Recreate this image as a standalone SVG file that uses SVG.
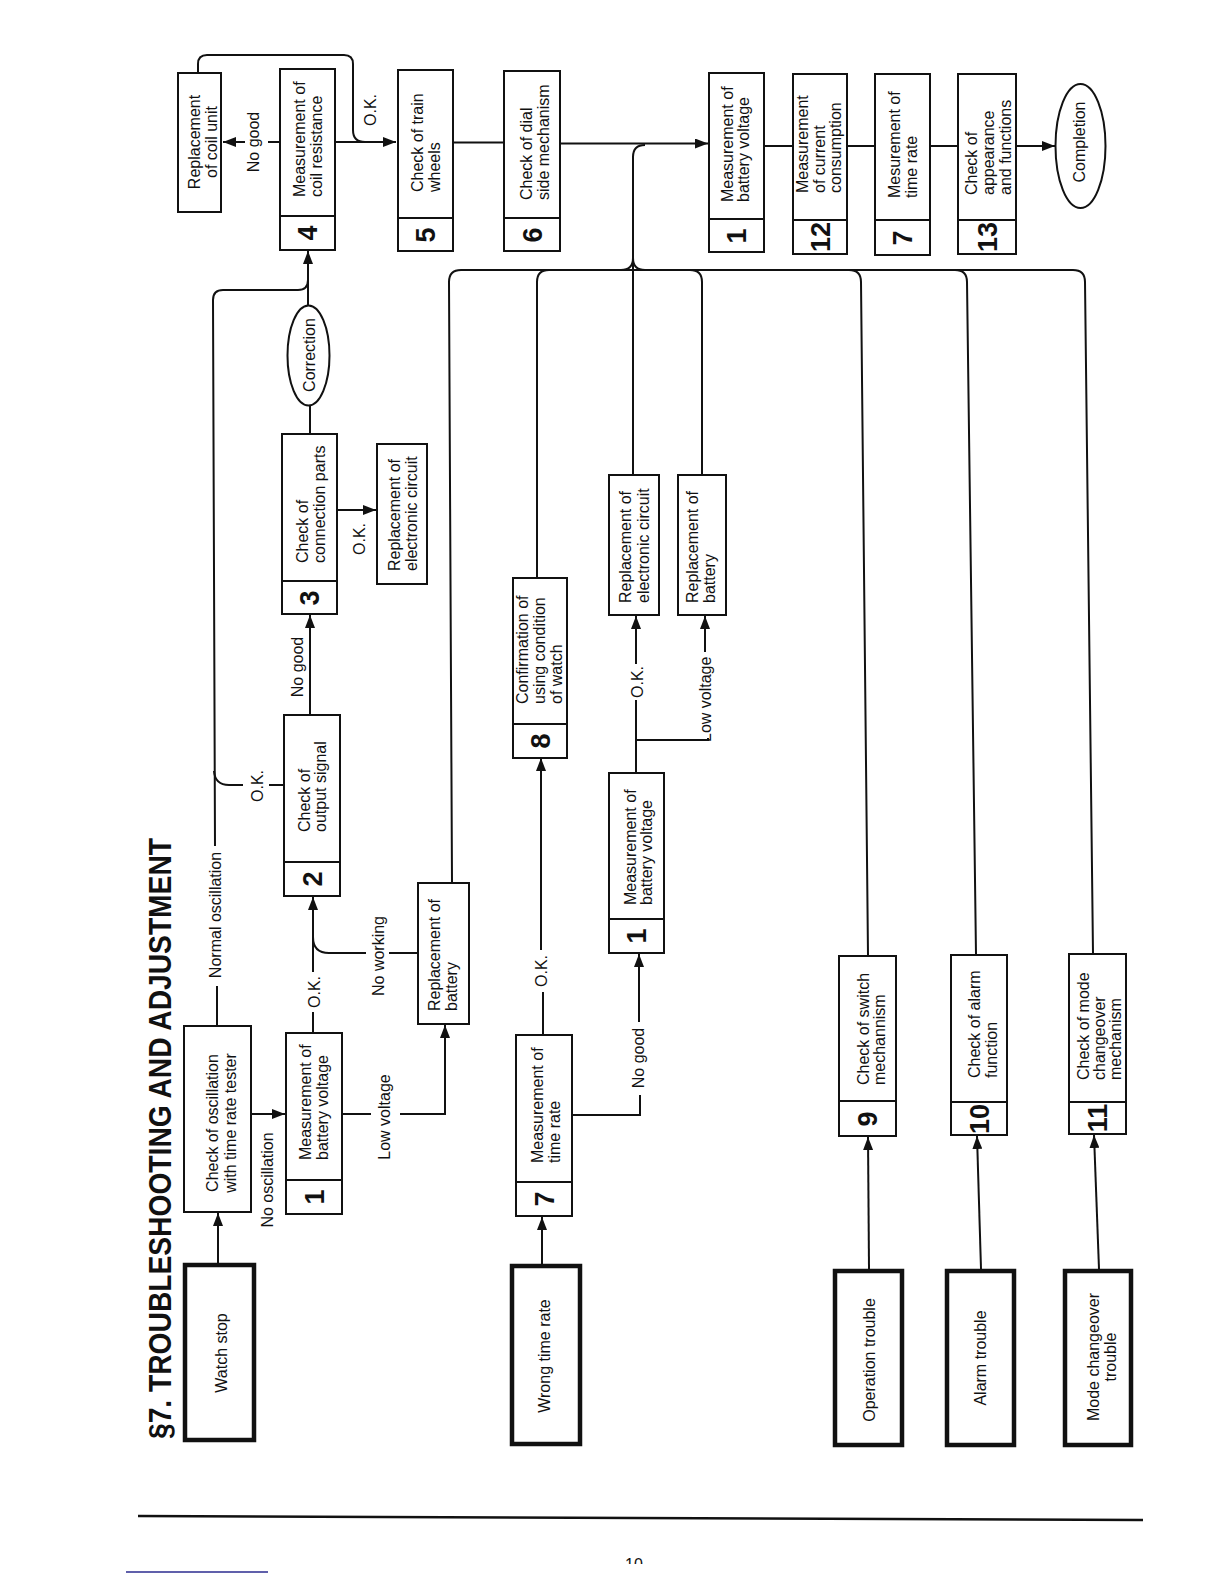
<svg xmlns="http://www.w3.org/2000/svg" width="1224" height="1584" viewBox="0 0 1224 1584">
<defs>
<style>
.b{fill:#fff;stroke:#111;stroke-width:2}
.tb{fill:#fff;stroke:#111;stroke-width:4.5}
.d{stroke:#111;stroke-width:2}
.t{font-family:"Liberation Sans",Arial,Helvetica,sans-serif;font-size:16px;fill:#111}
.c{text-anchor:middle}
.n{font-family:"Liberation Sans",Arial,Helvetica,sans-serif;font-size:27px;font-weight:bold;fill:#111;text-anchor:middle}
.ln{fill:none;stroke:#111;stroke-width:2}
.ar{marker-end:url(#ah)}
</style>
<marker id="ah" markerUnits="userSpaceOnUse" markerWidth="13" markerHeight="10" refX="13" refY="5" orient="auto"><path d="M0,0 L13,5 L0,10 Z" fill="#111"/></marker>
<clipPath id="pg"><rect x="0" y="0" width="1224" height="1564"/></clipPath>
</defs>
<rect width="1224" height="1584" fill="#fff"/>

<text class="t" transform="rotate(-90)" x="-1439" y="171" style="font-size:31px;font-weight:bold" textLength="601" lengthAdjust="spacingAndGlyphs">§7. TROUBLESHOOTING AND ADJUSTMENT</text>

<g id="connectors">
<path class="ln ar" d="M336,142 H396"/>
<path class="ln" d="M279,142 H268"/>
<path class="ln ar" d="M245,142 H223"/>
<path class="ln" d="M198,72 V64 Q198,55 207,55 H344 Q353,55 353,64 V130 Q353,142 365,142"/>
<path class="ln" d="M454,142.5 H503"/>
<path class="ln ar" d="M560,143.5 H708"/>
<path class="ln" d="M765,146 H792"/>
<path class="ln" d="M848,146 H874"/>
<path class="ln" d="M931,146 H957"/>
<path class="ln ar" d="M1017,146 H1055"/>

<path class="ln ar" d="M218,1263 V1213"/>
<path class="ln ar" d="M252,1114 H285"/>
<path class="ln" d="M313,1032 V1012"/>
<path class="ln ar" d="M313,972 V897"/>
<path class="ln" d="M313,937 Q313,953 329,953 H366"/>
<path class="ln" d="M389,953 H417"/>
<path class="ln" d="M343,1114 H371"/>
<path class="ln ar" d="M400,1114 H445 V1025"/>
<path class="ln" d="M217,1025 V986"/>
<path class="ln" d="M215,846 L213,300 Q213,290 223,290 H298 Q308,290 308,280"/>
<path class="ln ar" d="M308,305 V251"/>
<path class="ln" d="M214,771 Q215,785 229,785 H243"/>
<path class="ln" d="M269,785 H283"/>
<path class="ln ar" d="M310,714 V615"/>
<path class="ln" d="M310,433 V405"/>
<path class="ln ar" d="M338,510 H376"/>

<path class="ln" d="M452,882 L449,282 Q449,270 461,270 H1073"/>
<path class="ln" d="M537,577 V282 Q537,270 549,270"/>
<path class="ln" d="M633,474 V157 Q633,145 645,145"/>
<path class="ln" d="M621,270 Q633,270 633,258 M645,270 Q633,270 633,258"/>
<path class="ln" d="M690,270 Q702,270 702,282 V474"/>
<path class="ln" d="M849,270 Q861,270 861,282 L868,955"/>
<path class="ln" d="M955,270 Q967,270 967,282 L976,954"/>
<path class="ln" d="M1073,270 Q1085,270 1085,282 L1093,953"/>

<path class="ln" d="M543,1034 V992"/>
<path class="ln ar" d="M541,950 V758"/>
<path class="ln" d="M573,1115 H640 V1095"/>
<path class="ln ar" d="M639,1022 V954"/>
<path class="ln" d="M636,772 V740 H708 V738"/>
<path class="ln" d="M636,740 V700"/>
<path class="ln ar" d="M636,664 V616"/>
<path class="ln ar" d="M705,652 V616"/>

<path class="ln ar" d="M542,1264 V1217"/>
<path class="ln ar" d="M869,1269 L868,1137"/>
<path class="ln ar" d="M981,1269 L977,1136"/>
<path class="ln ar" d="M1099,1269 L1094,1135"/>
</g>

<g id="labels">
<text class="t c" transform="rotate(-90)" x="-142" y="259">No good</text>
<text class="t c" transform="rotate(-90)" x="-110" y="376">O.K.</text>
<text class="t c" transform="rotate(-90)" x="-667" y="303">No good</text>
<text class="t c" transform="rotate(-90)" x="-539" y="365">O.K.</text>
<text class="t c" transform="rotate(-90)" x="-786" y="263">O.K.</text>
<text class="t c" transform="rotate(-90)" x="-915" y="221">Normal oscillation</text>
<text class="t c" transform="rotate(-90)" x="-1180" y="273">No oscillation</text>
<text class="t c" transform="rotate(-90)" x="-992" y="320">O.K.</text>
<text class="t c" transform="rotate(-90)" x="-956" y="384">No working</text>
<text class="t c" transform="rotate(-90)" x="-1117" y="390">Low voltage</text>
<text class="t c" transform="rotate(-90)" x="-971" y="547">O.K.</text>
<text class="t c" transform="rotate(-90)" x="-1058" y="644">No good</text>
<text class="t c" transform="rotate(-90)" x="-682" y="643">O.K.</text>
<text class="t" transform="rotate(-90)" x="-742" y="711">Low voltage</text>
</g>

<g id="n-coil"><rect class="b" x="178" y="73" width="43" height="139"/><text class="t c" transform="rotate(-90)"><tspan x="-142" y="200">Replacement</tspan><tspan x="-142" y="217">of coil unit</tspan></text></g>
<g id="n4"><rect class="b" x="280" y="69" width="55" height="181"/><line class="d" x1="280" y1="216" x2="335" y2="216"/><text class="t" transform="rotate(-90)"><tspan x="-197" y="305">Measurement of</tspan><tspan x="-197" y="322">coil resistance</tspan></text><text class="n" transform="rotate(-90)" x="-233" y="317">4</text></g>
<g id="n5"><rect class="b" x="398" y="70" width="55" height="181"/><line class="d" x1="398" y1="218" x2="453" y2="218"/><text class="t" transform="rotate(-90)"><tspan x="-192" y="423">Check of train</tspan><tspan x="-192" y="440">wheels</tspan></text><text class="n" transform="rotate(-90)" x="-235" y="435">5</text></g>
<g id="n6"><rect class="b" x="504" y="71" width="56" height="180"/><line class="d" x1="504" y1="218" x2="560" y2="218"/><text class="t" transform="rotate(-90)"><tspan x="-200" y="532">Check of dial</tspan><tspan x="-200" y="549">side mechanism</tspan></text><text class="n" transform="rotate(-90)" x="-235" y="542">6</text></g>
<g id="n1a"><rect class="b" x="709" y="73" width="55" height="179"/><line class="d" x1="709" y1="219" x2="764" y2="219"/><text class="t" transform="rotate(-90)"><tspan x="-202" y="733">Measurement of</tspan><tspan x="-202" y="749">battery voltage</tspan></text><text class="n" transform="rotate(-90)" x="-236" y="746">1</text></g>
<g id="n12"><rect class="b" x="793" y="74" width="54" height="180"/><line class="d" x1="793" y1="220" x2="847" y2="220"/><text class="t" transform="rotate(-90)"><tspan x="-193" y="808">Measurement</tspan><tspan x="-193" y="825">of current</tspan><tspan x="-193" y="841">consumption</tspan></text><text class="n" transform="rotate(-90)" x="-237" y="830">12</text></g>
<g id="n7a"><rect class="b" x="875" y="74" width="55" height="181"/><line class="d" x1="875" y1="220" x2="930" y2="220"/><text class="t" transform="rotate(-90)"><tspan x="-198" y="900">Mesurement of</tspan><tspan x="-198" y="917">time rate</tspan></text><text class="n" transform="rotate(-90)" x="-238" y="912">7</text></g>
<g id="n13"><rect class="b" x="958" y="74" width="58" height="180"/><line class="d" x1="958" y1="220" x2="1016" y2="220"/><text class="t" transform="rotate(-90)"><tspan x="-195" y="977">Check of</tspan><tspan x="-195" y="994">appearance</tspan><tspan x="-195" y="1011">and functions</tspan></text><text class="n" transform="rotate(-90)" x="-237" y="997">13</text></g>
<g id="n-completion"><ellipse class="b" cx="1080.5" cy="146" rx="25" ry="62"/><text class="t c" transform="rotate(-90)" x="-142" y="1085">Completion</text></g>

<g id="n-correction"><ellipse class="b" cx="308.5" cy="355.5" rx="21" ry="50"/><text class="t c" transform="rotate(-90)" x="-355" y="315">Correction</text></g>
<g id="n3"><rect class="b" x="282" y="434" width="55" height="180"/><line class="d" x1="282" y1="581" x2="337" y2="581"/><text class="t" transform="rotate(-90)"><tspan x="-563" y="308">Check of</tspan><tspan x="-563" y="325">connection parts</tspan></text><text class="n" transform="rotate(-90)" x="-598" y="319">3</text></g>
<g id="n-rep-ec-a"><rect class="b" x="377" y="444" width="50" height="140"/><text class="t" transform="rotate(-90)"><tspan x="-571" y="400">Replacement of</tspan><tspan x="-571" y="417">electronic circuit</tspan></text></g>
<g id="n2"><rect class="b" x="284" y="715" width="56" height="181"/><line class="d" x1="284" y1="862" x2="340" y2="862"/><text class="t" transform="rotate(-90)"><tspan x="-832" y="310">Check of</tspan><tspan x="-832" y="326">output signal</tspan></text><text class="n" transform="rotate(-90)" x="-879" y="322">2</text></g>
<g id="n-rep-bat-a"><rect class="b" x="418" y="883" width="51" height="141"/><text class="t" transform="rotate(-90)"><tspan x="-1011" y="440">Replacement of</tspan><tspan x="-1011" y="457">battery</tspan></text></g>
<g id="n-osc"><rect class="b" x="184" y="1026" width="67" height="186"/><text class="t c" transform="rotate(-90)"><tspan x="-1123" y="218">Check of oscillation</tspan><tspan x="-1123" y="236">with time rate tester</tspan></text></g>
<g id="n1b"><rect class="b" x="286" y="1033" width="56" height="181"/><line class="d" x1="286" y1="1180" x2="342" y2="1180"/><text class="t" transform="rotate(-90)"><tspan x="-1160" y="311">Measurement of</tspan><tspan x="-1160" y="328">battery voltage</tspan></text><text class="n" transform="rotate(-90)" x="-1197" y="324">1</text></g>
<g id="n7b"><rect class="b" x="516" y="1035" width="56" height="181"/><line class="d" x1="516" y1="1182" x2="572" y2="1182"/><text class="t" transform="rotate(-90)"><tspan x="-1163" y="543">Measurement of</tspan><tspan x="-1163" y="560">time rate</tspan></text><text class="n" transform="rotate(-90)" x="-1199" y="554">7</text></g>
<g id="n8"><rect class="b" x="513" y="578" width="54" height="180"/><line class="d" x1="513" y1="724" x2="567" y2="724"/><text class="t" transform="rotate(-90)"><tspan x="-704" y="528">Confirmation of</tspan><tspan x="-704" y="545">using condition</tspan><tspan x="-704" y="562">of watch</tspan></text><text class="n" transform="rotate(-90)" x="-741" y="550">8</text></g>
<g id="n1c"><rect class="b" x="609" y="773" width="55" height="180"/><line class="d" x1="609" y1="919" x2="664" y2="919"/><text class="t" transform="rotate(-90)"><tspan x="-905" y="636">Measurement of</tspan><tspan x="-905" y="652">battery voltage</tspan></text><text class="n" transform="rotate(-90)" x="-936" y="646">1</text></g>
<g id="n-rep-ec-b"><rect class="b" x="609" y="475" width="50" height="140"/><text class="t" transform="rotate(-90)"><tspan x="-603" y="631">Replacement of</tspan><tspan x="-603" y="649">electronic circuit</tspan></text></g>
<g id="n-rep-bat-b"><rect class="b" x="678" y="475" width="48" height="140"/><text class="t" transform="rotate(-90)"><tspan x="-603" y="698">Replacement of</tspan><tspan x="-603" y="715">battery</tspan></text></g>
<g id="n9"><rect class="b" x="839" y="956" width="57" height="180"/><line class="d" x1="839" y1="1101" x2="896" y2="1101"/><text class="t" transform="rotate(-90)"><tspan x="-1085" y="869">Check of switch</tspan><tspan x="-1085" y="885">mechannism</tspan></text><text class="n" transform="rotate(-90)" x="-1119" y="877">9</text></g>
<g id="n10"><rect class="b" x="951" y="955" width="56" height="180"/><line class="d" x1="951" y1="1102" x2="1007" y2="1102"/><text class="t" transform="rotate(-90)"><tspan x="-1078" y="980">Check of alarm</tspan><tspan x="-1078" y="997">function</tspan></text><text class="n" transform="rotate(-90)" x="-1119" y="989">10</text></g>
<g id="n11"><rect class="b" x="1069" y="954" width="57" height="180"/><line class="d" x1="1069" y1="1102" x2="1126" y2="1102"/><text class="t" transform="rotate(-90)"><tspan x="-1080" y="1089">Check of mode</tspan><tspan x="-1080" y="1105">changeover</tspan><tspan x="-1080" y="1121">mechanism</tspan></text><text class="n" transform="rotate(-90)" x="-1118" y="1107">11</text></g>

<g id="n-watch-stop"><rect class="tb" x="185" y="1265" width="69" height="175"/><text class="t c" transform="rotate(-90)" x="-1353" y="227">Watch stop</text></g>
<g id="n-wrong-rate"><rect class="tb" x="512" y="1266" width="68" height="178"/><text class="t c" transform="rotate(-90)" x="-1356" y="550">Wrong time rate</text></g>
<g id="n-operation"><rect class="tb" x="835" y="1271" width="67" height="174"/><text class="t c" transform="rotate(-90)" x="-1360" y="875">Operation trouble</text></g>
<g id="n-alarm"><rect class="tb" x="947" y="1271" width="67" height="174"/><text class="t c" transform="rotate(-90)" x="-1358" y="986">Alarm trouble</text></g>
<g id="n-mode"><rect class="tb" x="1065" y="1271" width="66" height="174"/><text class="t c" transform="rotate(-90)"><tspan x="-1357" y="1099">Mode changeover</tspan><tspan x="-1357" y="1116">trouble</tspan></text></g>

<line x1="138" y1="1516" x2="1143" y2="1520" stroke="#111" stroke-width="2.5"/>
<text class="t c" x="634" y="1570" clip-path="url(#pg)">10</text>
<line x1="126" y1="1572" x2="268" y2="1572" stroke="#2b2b8f" stroke-width="1.5"/>
</svg>
